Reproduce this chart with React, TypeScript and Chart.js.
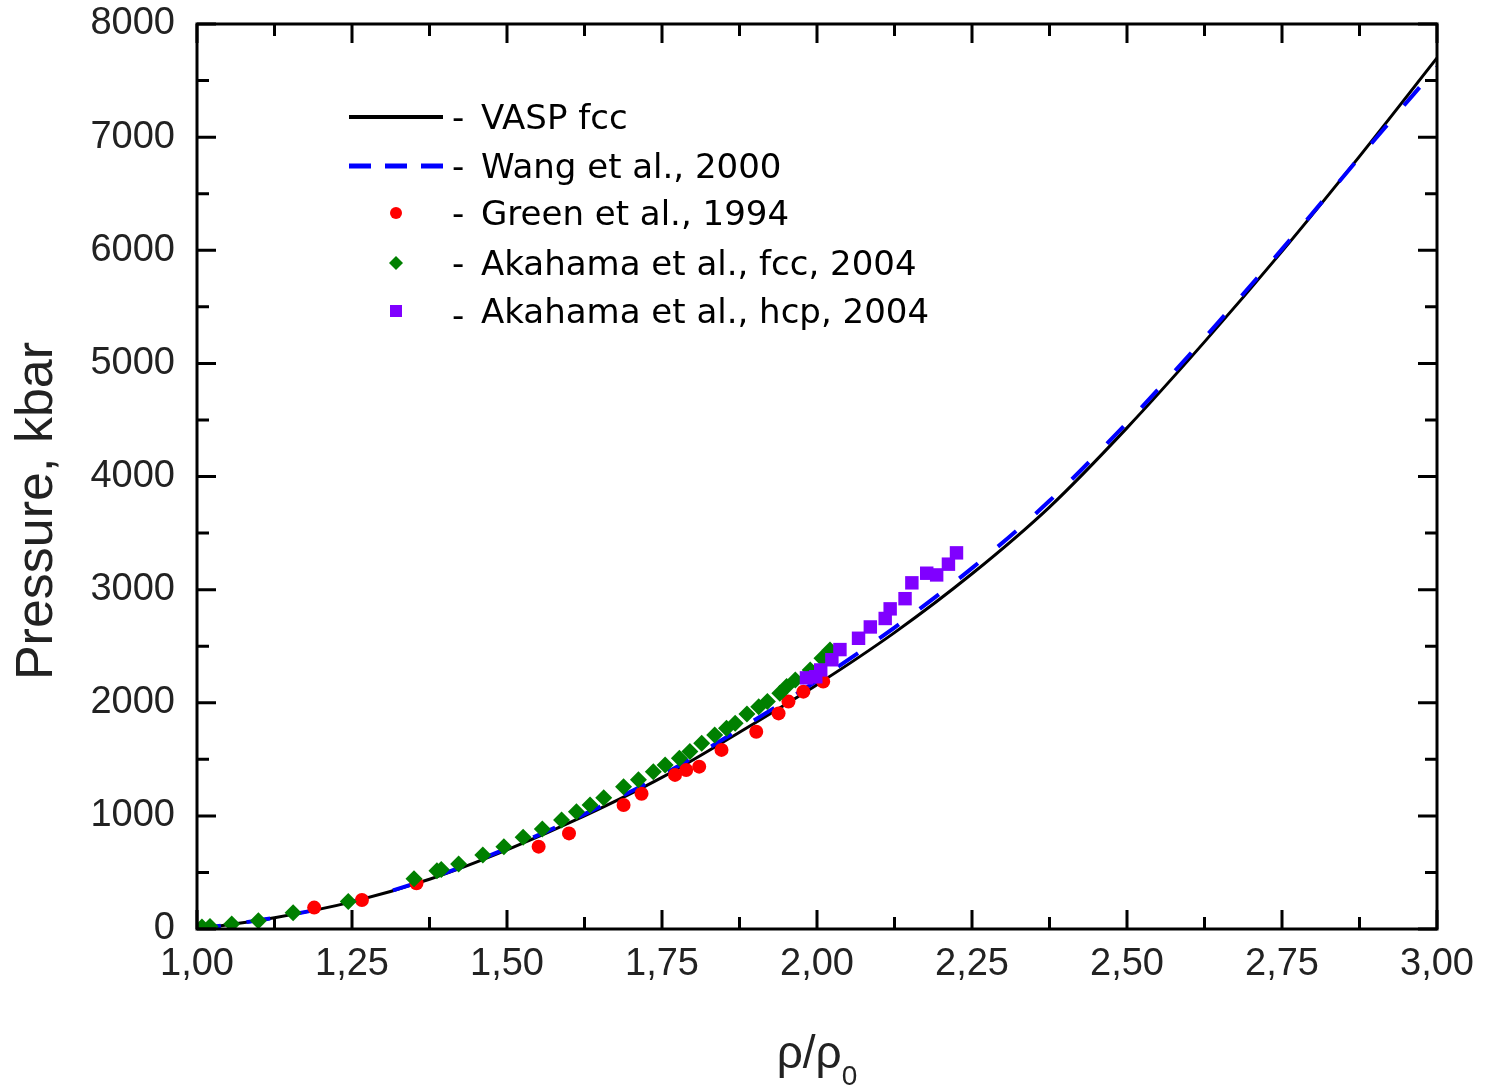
import React, { useEffect, useRef } from 'react';
import { Chart, registerables } from 'chart.js';

Chart.register(...registerables);

// ---- data ----
const curveRho = [1.0, 1.125, 1.25, 1.375, 1.5, 1.625, 1.75, 1.875, 2.0, 2.125, 2.25, 2.375, 2.5, 2.625, 2.75, 2.875, 3.0];
const vaspFcc = [0, 100, 240, 440, 700, 1000, 1340, 1740, 2160, 2620, 3140, 3730, 4430, 5190, 5990, 6830, 7700];
const wang2000 = [0, 100, 242, 446, 712, 1015, 1360, 1765, 2195, 2665, 3190, 3785, 4475, 5225, 6010, 6820, 7620];

const greenRho = [1.189, 1.266, 1.354, 1.551, 1.600, 1.688, 1.717, 1.771, 1.789, 1.810, 1.846, 1.902, 1.938, 1.954, 1.978, 2.010];
const greenP = [189, 256, 404, 728, 845, 1096, 1196, 1362, 1406, 1435, 1583, 1744, 1906, 2010, 2098, 2187];

const akaFccRho = [1.008, 1.021, 1.056, 1.099, 1.155, 1.244, 1.350, 1.387, 1.394, 1.422, 1.461, 1.495, 1.526, 1.557, 1.588, 1.612, 1.634, 1.656, 1.688, 1.712, 1.736, 1.755, 1.778, 1.795, 1.814, 1.835, 1.854, 1.868, 1.887, 1.906, 1.920, 1.940, 1.951, 1.965, 1.989, 2.008, 2.021];
const akaFccP = [18, 22, 44, 72, 144, 242, 445, 515, 525, 575, 654, 728, 811, 884, 964, 1037, 1096, 1160, 1258, 1320, 1391, 1450, 1509, 1568, 1641, 1715, 1774, 1818, 1901, 1965, 2010, 2083, 2143, 2201, 2290, 2393, 2467];

const akaHcpRho = [1.983, 1.998, 2.006, 2.024, 2.037, 2.067, 2.086, 2.110, 2.118, 2.142, 2.153, 2.177, 2.193, 2.212, 2.225];
const akaHcpP = [2220, 2230, 2290, 2380, 2470, 2570, 2670, 2745, 2830, 2920, 3060, 3145, 3130, 3225, 3325];

const xTickValues = [1.0, 1.25, 1.5, 1.75, 2.0, 2.25, 2.5, 2.75, 3.0];
const xTickLabels = ['1,00', '1,25', '1,50', '1,75', '2,00', '2,25', '2,50', '2,75', '3,00'];
const yTickValues = [0, 1000, 2000, 3000, 4000, 5000, 6000, 7000, 8000];

const legendLabels = ['VASP fcc', 'Wang et al., 2000', 'Green et al., 1994', 'Akahama et al., fcc, 2004', 'Akahama et al., hcp, 2004'];

const toPts = (xs: number[], ys: number[]) => xs.map((x, i) => ({ x, y: ys[i] }));

const RED = '#ff0000';
const GREEN = '#008000';
const PURPLE = '#8000ff';
const BLUE = '#0000ff';

const decorPlugin = {
  id: 'decor',
  afterDraw(chart: any) {
    const { ctx, chartArea: a, scales } = chart;
    const xs = scales.x;
    const ys = scales.y;
    ctx.save();
    ctx.strokeStyle = '#000';
    ctx.lineWidth = 3;
    ctx.strokeRect(a.left, a.top, a.right - a.left, a.bottom - a.top);
    const MAJ = 19;
    const MIN = 12;
    ctx.beginPath();
    xTickValues.forEach((v, i) => {
      const px = xs.getPixelForValue(v);
      ctx.moveTo(px, a.bottom); ctx.lineTo(px, a.bottom - MAJ);
      ctx.moveTo(px, a.top); ctx.lineTo(px, a.top + MAJ);
      if (i < xTickValues.length - 1) {
        const pm = xs.getPixelForValue((v + xTickValues[i + 1]) / 2);
        ctx.moveTo(pm, a.bottom); ctx.lineTo(pm, a.bottom - MIN);
        ctx.moveTo(pm, a.top); ctx.lineTo(pm, a.top + MIN);
      }
    });
    yTickValues.forEach((v, i) => {
      const py = ys.getPixelForValue(v);
      ctx.moveTo(a.left, py); ctx.lineTo(a.left + MAJ, py);
      ctx.moveTo(a.right, py); ctx.lineTo(a.right - MAJ, py);
      if (i < yTickValues.length - 1) {
        const pm = ys.getPixelForValue((v + yTickValues[i + 1]) / 2);
        ctx.moveTo(a.left, pm); ctx.lineTo(a.left + MIN, pm);
        ctx.moveTo(a.right, pm); ctx.lineTo(a.right - MIN, pm);
      }
    });
    ctx.stroke();

    // axis titles
    ctx.fillStyle = '#222';
    ctx.save();
    ctx.translate(38, 511);
    ctx.rotate(-Math.PI / 2);
    ctx.font = '52px "Liberation Sans", Arial, sans-serif';
    ctx.textAlign = 'center';
    ctx.textBaseline = 'middle';
    ctx.fillText('Pressure, kbar', 0, 0);
    ctx.restore();

    const cx = (a.left + a.right) / 2;
    ctx.font = '46px "Liberation Sans", Arial, sans-serif';
    ctx.textAlign = 'left';
    ctx.textBaseline = 'alphabetic';
    const main = 'ρ/ρ';
    const w1 = ctx.measureText(main).width;
    ctx.font = '28px "Liberation Sans", Arial, sans-serif';
    const w2 = ctx.measureText('0').width;
    const start = cx - (w1 + w2) / 2;
    ctx.font = '46px "Liberation Sans", Arial, sans-serif';
    ctx.fillText(main, start, 1068);
    ctx.font = '28px "Liberation Sans", Arial, sans-serif';
    ctx.fillText('0', start + w1, 1085);

    // legend
    const rows = [117, 166, 213, 263, 311];
    const symX = 396;
    ctx.lineWidth = 4;
    ctx.strokeStyle = '#000';
    ctx.beginPath();
    ctx.moveTo(349, rows[0]); ctx.lineTo(443, rows[0]);
    ctx.stroke();
    ctx.strokeStyle = BLUE;
    ctx.lineWidth = 5;
    ctx.setLineDash([22, 14]);
    ctx.beginPath();
    ctx.moveTo(349, rows[1]); ctx.lineTo(443, rows[1]);
    ctx.stroke();
    ctx.setLineDash([]);
    ctx.fillStyle = RED;
    ctx.beginPath();
    ctx.arc(symX, rows[2], 6, 0, Math.PI * 2);
    ctx.fill();
    ctx.fillStyle = GREEN;
    ctx.beginPath();
    ctx.moveTo(symX - 7, rows[3]); ctx.lineTo(symX, rows[3] - 7);
    ctx.lineTo(symX + 7, rows[3]); ctx.lineTo(symX, rows[3] + 7);
    ctx.closePath();
    ctx.fill();
    ctx.fillStyle = PURPLE;
    ctx.fillRect(symX - 6, rows[4] - 6, 12, 12);

    ctx.fillStyle = '#000';
    ctx.font = '34px "DejaVu Sans", sans-serif';
    ctx.textBaseline = 'middle';
    ctx.textAlign = 'left';
    legendLabels.forEach((t, i) => {
      ctx.fillText('-', 452, rows[i] + 3 + (i === 4 ? 4 : 0));
      ctx.fillText(t, 481, rows[i] + 3);
    });
    ctx.restore();
  },
};

export default function App() {
  const ref = useRef<HTMLCanvasElement | null>(null);
  useEffect(() => {
    if (!ref.current) return;
    const chart = new Chart(ref.current, {
      type: 'scatter',
      data: {
        datasets: [
          {
            label: legendLabels[4],
            data: toPts(akaHcpRho, akaHcpP),
            pointStyle: 'rect',
            pointRadius: 9.5,
            backgroundColor: PURPLE,
            borderWidth: 0,
            order: 0,
          },
          {
            label: legendLabels[3],
            data: toPts(akaFccRho, akaFccP),
            pointStyle: 'rectRot',
            pointRadius: 8.5,
            backgroundColor: GREEN,
            borderWidth: 0,
            order: 1,
          },
          {
            label: legendLabels[2],
            data: toPts(greenRho, greenP),
            pointStyle: 'circle',
            pointRadius: 7,
            backgroundColor: RED,
            borderWidth: 0,
            order: 2,
          },
          {
            label: legendLabels[1],
            type: 'line',
            data: toPts(curveRho, wang2000),
            borderColor: BLUE,
            borderWidth: 4,
            borderDash: [24, 26],
            pointRadius: 0,
            fill: false,
            cubicInterpolationMode: 'monotone',
            showLine: true,
            order: 3,
          },
          {
            label: legendLabels[0],
            type: 'line',
            data: toPts(curveRho, vaspFcc),
            borderColor: '#000',
            borderWidth: 3,
            pointRadius: 0,
            fill: false,
            cubicInterpolationMode: 'monotone',
            showLine: true,
            order: 4,
          },
        ] as any,
      },
      options: {
        animation: false,
        responsive: false,
        devicePixelRatio: 1,
        layout: { padding: { left: 0, right: 51, top: 24, bottom: 0 } },
        plugins: { legend: { display: false }, tooltip: { enabled: false } },
        scales: {
          x: {
            type: 'linear',
            min: 1,
            max: 3,
            afterFit: (s: any) => { s.height = 159; s.paddingLeft = 0; s.paddingRight = 0; },
            afterBuildTicks: (s: any) => { s.ticks = xTickValues.map((v) => ({ value: v })); },
            grid: { display: false, drawTicks: false },
            border: { display: false },
            ticks: {
              autoSkip: false,
              maxRotation: 0,
              padding: 13,
              color: '#222',
              font: { size: 38, family: '"Liberation Sans", Arial, sans-serif' },
              callback: (v: any) => {
                const i = xTickValues.findIndex((t) => Math.abs(t - Number(v)) < 1e-6);
                return i >= 0 ? xTickLabels[i] : '';
              },
            },
          },
          y: {
            type: 'linear',
            min: 0,
            max: 8000,
            afterFit: (s: any) => { s.width = 197; s.paddingTop = 0; s.paddingBottom = 0; },
            afterBuildTicks: (s: any) => { s.ticks = yTickValues.map((v) => ({ value: v })); },
            grid: { display: false, drawTicks: false },
            border: { display: false },
            ticks: {
              padding: 22,
              color: '#222',
              font: { size: 38, family: '"Liberation Sans", Arial, sans-serif' },
              callback: (v: any) => String(v),
            },
          },
        },
      },
      plugins: [decorPlugin],
    });
    return () => chart.destroy();
  }, []);
  return (
    <div style={{ position: 'absolute', left: 0, top: 0, width: 1488, height: 1088, background: '#fff' }}>
      <canvas ref={ref} width={1488} height={1088} style={{ width: 1488, height: 1088, display: 'block' }} />
    </div>
  );
}
